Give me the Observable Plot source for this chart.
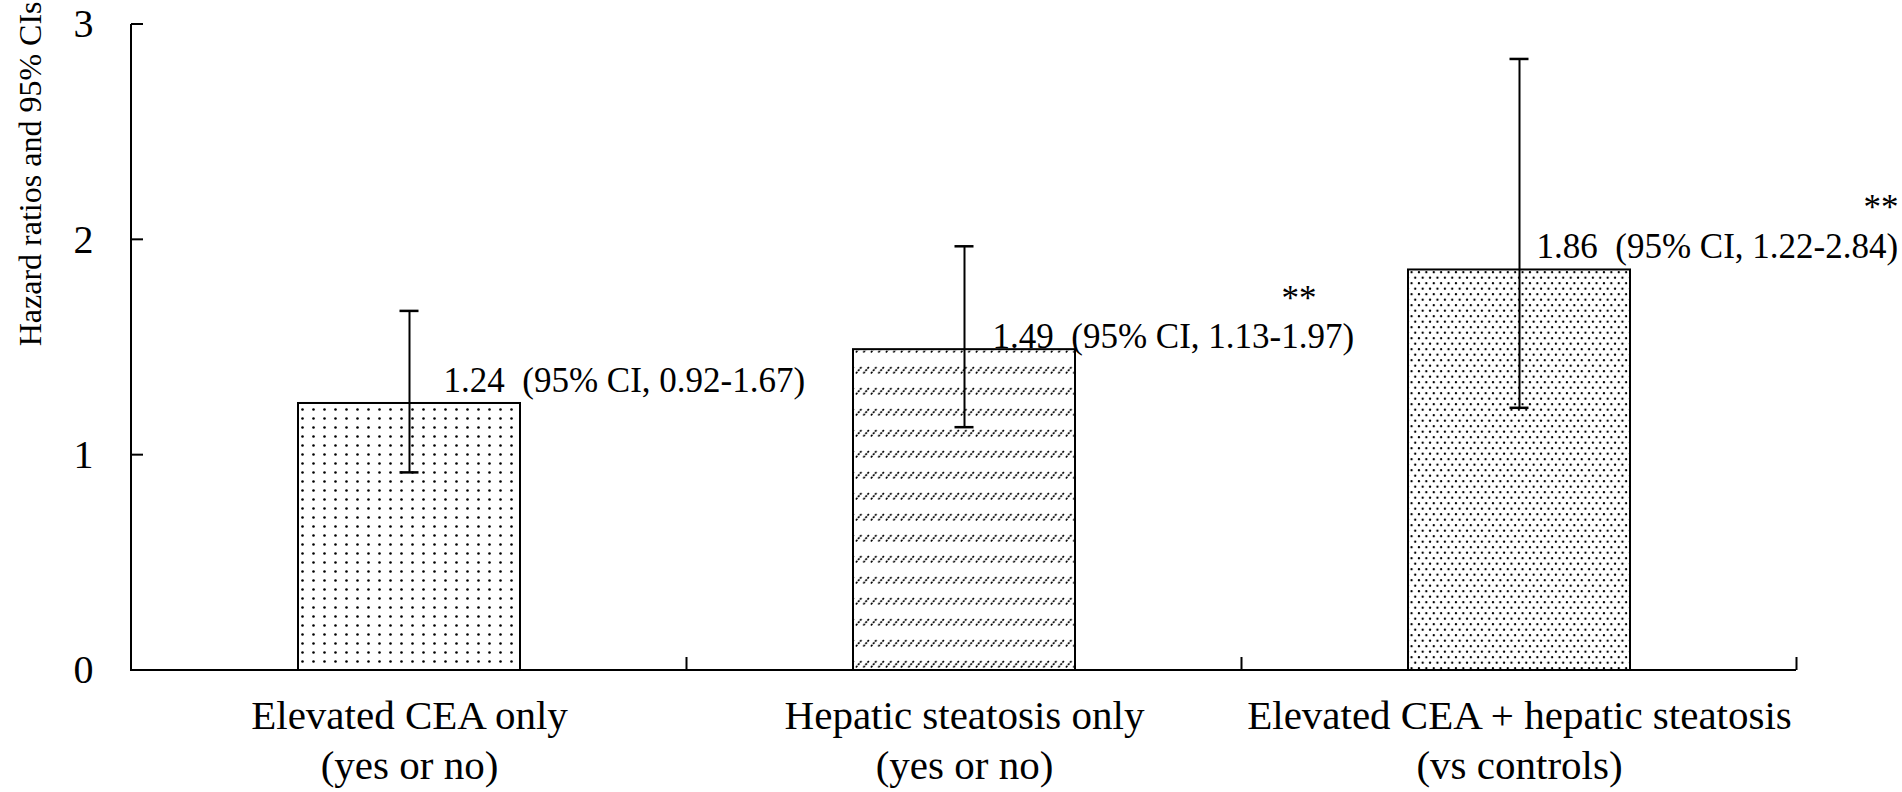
<!DOCTYPE html>
<html>
<head>
<meta charset="utf-8">
<script src="https://cdn.jsdelivr.net/npm/d3@7"></script>
<script src="https://cdn.jsdelivr.net/npm/@observablehq/plot@0.6"></script>
<style>
  html, body { margin: 0; padding: 0; background: #fff; }
  #chart svg { display: block; }
</style>
</head>
<body>
<div id="chart"></div>
<script>
// ---- data ----
const categories = [
  "Elevated CEA only\n(yes or no)",
  "Hepatic steatosis only\n(yes or no)",
  "Elevated CEA + hepatic steatosis\n(vs controls)"
];
const hazardRatios = [1.24, 1.49, 1.86];
const ciLower = [0.92, 1.13, 1.22];
const ciUpper = [1.67, 1.97, 2.84];
const significance = ["", "**", "**"];
const yTicks = [0, 1, 2, 3];
const yTitle = "Hazard ratios and 95% CIs";

const data = categories.map((c, i) => ({
  i, cat: c, hr: hazardRatios[i], lo: ciLower[i], hi: ciUpper[i], sig: significance[i]
}));

// ---- fill patterns ----
function patternDefs() {
  const defs = d3.create("svg:defs");
  // bar 1: square grid of dots
  const p0 = defs.append("pattern").attr("id", "pat0").attr("patternUnits", "userSpaceOnUse")
    .attr("width", 11).attr("height", 9);
  p0.append("rect").attr("width", 11).attr("height", 9).attr("fill", "white");
  p0.append("circle").attr("cx", 5.5).attr("cy", 4.5).attr("r", 1.3).attr("fill", "black");
  // bar 2: rows of short slashes
  const p1 = defs.append("pattern").attr("id", "pat1").attr("patternUnits", "userSpaceOnUse")
    .attr("width", 7.5).attr("height", 21);
  p1.append("rect").attr("width", 7.5).attr("height", 21).attr("fill", "white");
  p1.append("line").attr("x1", 0.9).attr("y1", 16.5).attr("x2", 6.4).attr("y2", 10)
    .attr("stroke", "black").attr("stroke-width", 1.6).attr("stroke-dasharray", "2.2,1");
  // bar 3: dense staggered dots
  const p2 = defs.append("pattern").attr("id", "pat2").attr("patternUnits", "userSpaceOnUse")
    .attr("width", 7.4).attr("height", 11);
  p2.append("rect").attr("width", 7.4).attr("height", 11).attr("fill", "white");
  p2.append("circle").attr("cx", 1.85).attr("cy", 2.75).attr("r", 1.15).attr("fill", "black");
  p2.append("circle").attr("cx", 5.55).attr("cy", 8.25).attr("r", 1.15).attr("fill", "black");
  return defs.node();
}

// ---- axis lines and inward ticks, positioned through the plot's scales ----
function axisFrame(index, scales, values, dims) {
  const {x, y} = scales;
  const {marginLeft: ml, marginRight: mr, width} = dims;
  const g = d3.create("svg:g").attr("stroke", "black").attr("stroke-width", 2).attr("fill", "none");
  const y0 = y(0);
  const yTop = y(d3.max(yTicks));
  g.append("line").attr("x1", ml).attr("x2", ml).attr("y1", y0 + 1).attr("y2", yTop);
  g.append("line").attr("x1", ml).attr("x2", width - mr).attr("y1", y0).attr("y2", y0);
  for (const t of yTicks) {
    g.append("line").attr("x1", ml).attr("x2", ml + 12).attr("y1", y(t)).attr("y2", y(t));
  }
  const bw = x.bandwidth(), step = x.step();
  for (const c of categories) {
    const bx = x(c) + bw + (step - bw) / 2;
    g.append("line").attr("x1", bx).attr("x2", bx).attr("y1", y0).attr("y2", y0 - 13);
  }
  return g.node();
}

const annText = d => `${d.hr.toFixed(2)}\u00a0 (95% CI, ${d.lo.toFixed(2)}-${d.hi.toFixed(2)})`;
const annFont = 35;
function annotation(i, dx, dy) {
  return Plot.text(data.filter(d => d.i === i), {
    x: "cat", y: "hr", text: annText, textAnchor: "start", lineAnchor: "bottom",
    dx, dy, fontSize: annFont, fill: "black"
  });
}
function stars(i, dx, dy) {
  return Plot.text(data.filter(d => d.i === i && d.sig), {
    x: "cat", y: "hr", text: "sig", textAnchor: "end", lineAnchor: "bottom",
    dx, dy, fontSize: annFont, fill: "black"
  });
}

const chart = Plot.plot({
  width: 1902,
  height: 792,
  marginLeft: 131,
  marginRight: 106,
  marginTop: 24,
  marginBottom: 122,
  style: {fontFamily: "'Liberation Serif', 'Times New Roman', serif", background: "white", color: "black"},
  x: {domain: categories, paddingInner: 0.6, paddingOuter: 0.3},
  y: {domain: [0, 3]},
  color: {type: "identity"},
  marks: [
    patternDefs,
    Plot.barY(data, {x: "cat", y: "hr", fill: d => `url(#pat${d.i})`, stroke: "black", strokeWidth: 2}),
    Plot.ruleX(data, {x: "cat", y1: "lo", y2: "hi", stroke: "black", strokeWidth: 2}),
    Plot.tickY(data, {x: "cat", y: "lo", stroke: "black", strokeWidth: 2.5, insetLeft: 101.5, insetRight: 101.5}),
    Plot.tickY(data, {x: "cat", y: "hi", stroke: "black", strokeWidth: 2.5, insetLeft: 101.5, insetRight: 101.5}),
    axisFrame,
    Plot.axisY({ticks: yTicks, tickSize: 0, tickPadding: 38, fontSize: 40, label: null, tickFormat: d => String(d)}),
    Plot.axisX({tickSize: 0, tickPadding: 24, fontSize: 41, lineHeight: 1.2, label: null}),
    Plot.text([yTitle], {
      text: d => d, frameAnchor: "top-left", rotate: -90, textAnchor: "end", lineAnchor: "bottom",
      dx: -91, dy: -23, fontSize: 32, fill: "black"
    }),
    annotation(0, 34, -11),
    annotation(1, 28, -2),
    annotation(2, 17, -12),
    stars(1, 352, -40),
    stars(2, 379, -51)
  ]
});

document.getElementById("chart").appendChild(chart);
</script>
</body>
</html>
